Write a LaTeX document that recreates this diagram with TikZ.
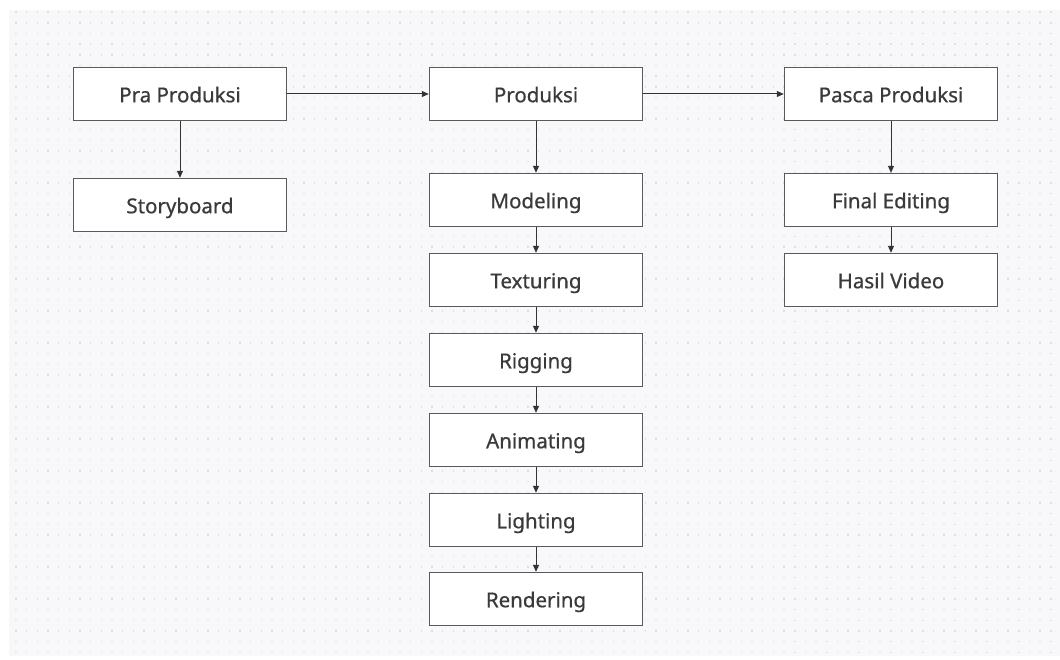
\documentclass[tikz,border=0pt]{standalone}
\usepackage{fontspec}
\setmainfont{Noto Sans}[FakeBold=0.6]
\usetikzlibrary{arrows.meta}
\definecolor{bgc}{HTML}{F8F8FA}
\definecolor{dotc}{HTML}{DEDEE3}
\definecolor{boxc}{HTML}{5A5A5A}
\definecolor{txtc}{HTML}{3A3A3A}
\definecolor{arrc}{HTML}{333333}
\tikzset{
  stepbox/.style={draw=boxc, line width=1.4pt, fill=white, minimum width=213pt, minimum height=53pt, inner sep=0pt, text=txtc, text height=16.5pt, text depth=0pt, font=\fontsize{20.5}{24}\selectfont},
  conn/.style={draw=arrc, line width=1pt, -{Triangle[length=7pt,width=6pt]}}
}
\begin{document}
\begin{tikzpicture}[x=1pt,y=-1pt]
\useasboundingbox (0,0) rectangle (1060,660);
\fill[white] (0,0) rectangle (1060,660);
\fill[bgc] (9,10) rectangle (1060,656);
\foreach \r in {0,...,60} {
  \draw[dotc, line width=1.6pt, dash pattern=on 1.6pt off 9.067pt] (15.2,{12.3+\r*10.667}) -- (1060,{12.3+\r*10.667});
}
\node[stepbox] (pra) at (180,94) {Pra Produksi};
\node[stepbox] (story) at (180,205) {Storyboard};
\node[stepbox] (prod) at (536,94) {Produksi};
\node[stepbox] (model) at (536,200) {Modeling};
\node[stepbox] (tex) at (536,280) {Texturing};
\node[stepbox] (rig) at (536,360) {Rigging};
\node[stepbox] (anim) at (536,440) {Animating};
\node[stepbox] (light) at (536,520) {Lighting};
\node[stepbox] (rend) at (536,599) {Rendering};
\node[stepbox] (pasca) at (891,94) {Pasca Produksi};
\node[stepbox] (final) at (891,200) {Final Editing};
\node[stepbox] (hasil) at (891,280) {Hasil Video};
\draw[conn] (pra) -- (prod);
\draw[conn] (prod) -- (pasca);
\draw[conn] (pra) -- (story);
\draw[conn] (prod) -- (model);
\draw[conn] (model) -- (tex);
\draw[conn] (tex) -- (rig);
\draw[conn] (rig) -- (anim);
\draw[conn] (anim) -- (light);
\draw[conn] (light) -- (rend);
\draw[conn] (pasca) -- (final);
\draw[conn] (final) -- (hasil);
\end{tikzpicture}
\end{document}
